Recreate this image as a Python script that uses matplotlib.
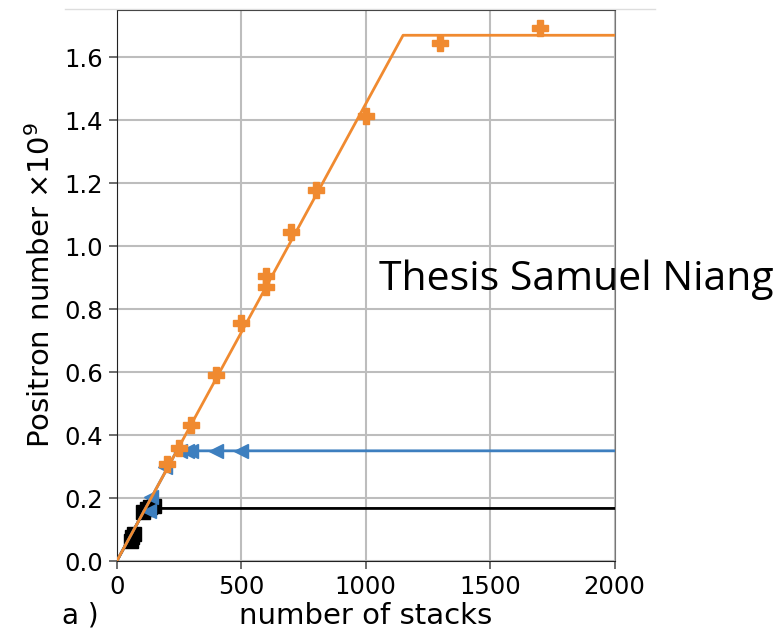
import numpy as np
import matplotlib.pyplot as plt
from matplotlib.lines import Line2D

# measured points (x = number of stacks, y = positrons / 1e9)
orange_x = [200, 250, 300, 400, 500, 600, 600, 700, 800, 1000, 1300, 1700]
orange_y = [0.308, 0.358, 0.432, 0.592, 0.756, 0.871, 0.905, 1.045, 1.18, 1.415, 1.644, 1.692]

blue_x = [128, 139, 193, 255, 280, 300, 400, 500]
blue_y = [0.16, 0.204, 0.30, 0.348, 0.349, 0.35, 0.348, 0.35]

black_x = [55, 62, 70, 105, 120, 135, 150]
black_y = [0.065, 0.075, 0.085, 0.155, 0.165, 0.17, 0.175]

# saturation fits (vertices)
orange_fit_x = [0, 1150, 2000]
orange_fit_y = [0, 1.67, 1.67]
blue_fit_x = [0, 241, 2000]
blue_fit_y = [0, 0.35, 0.35]
black_fit_x = [0, 115, 2000]
black_fit_y = [0, 0.167, 0.167]

c_orange = '#f08a30'
c_blue = '#3d7fbf'

fig = plt.figure(figsize=(7.84, 6.3), dpi=100)
ax = fig.add_axes([0.149, 0.1095, 0.635, 0.8745])

ax.plot(black_fit_x, black_fit_y, color='black', lw=2, zorder=3)
ax.plot(black_x, black_y, 's', color='black', ms=10, zorder=3)
ax.plot(blue_fit_x, blue_fit_y, color=c_blue, lw=2, zorder=4)
ax.plot(blue_x, blue_y, '<', color=c_blue, ms=10, zorder=4)
ax.plot(orange_fit_x, orange_fit_y, color=c_orange, lw=2, zorder=5)
ax.plot(orange_x, orange_y, 'P', color=c_orange, ms=11, zorder=5)

ax.set_xlim(0, 2000)
ax.set_ylim(0, 1.75)
ax.set_xticks([0, 500, 1000, 1500, 2000])
ax.set_yticks(np.arange(0, 1.61, 0.2))
ax.set_yticklabels(['%.1f' % v for v in np.arange(0, 1.61, 0.2)])
ax.grid(True, color='#bdbdbd', lw=1.5)
ax.set_axisbelow(True)
ax.tick_params(labelsize=17.5, length=6, width=1.2, color='#555555', pad=4)
for s in ['left', 'bottom', 'top']:
    ax.spines[s].set_color('#222222')
ax.spines['right'].set_color('#777777')

ax.set_ylabel(r'Positron number $\times10^9$', fontsize=21, labelpad=6)
ax.set_xlabel('number of stacks', fontsize=21, labelpad=2)
fig.text(0.079, 0.01, 'a )', fontsize=20)

fig.text(0.484, 0.54, 'Thesis Samuel Niang', fontsize=29.5, family='Open Sans')

fig.add_artist(Line2D([0.083, 0.835], [0.986, 0.986], color='#dddddd', lw=1))

fig.savefig('out.png', dpi=100)
